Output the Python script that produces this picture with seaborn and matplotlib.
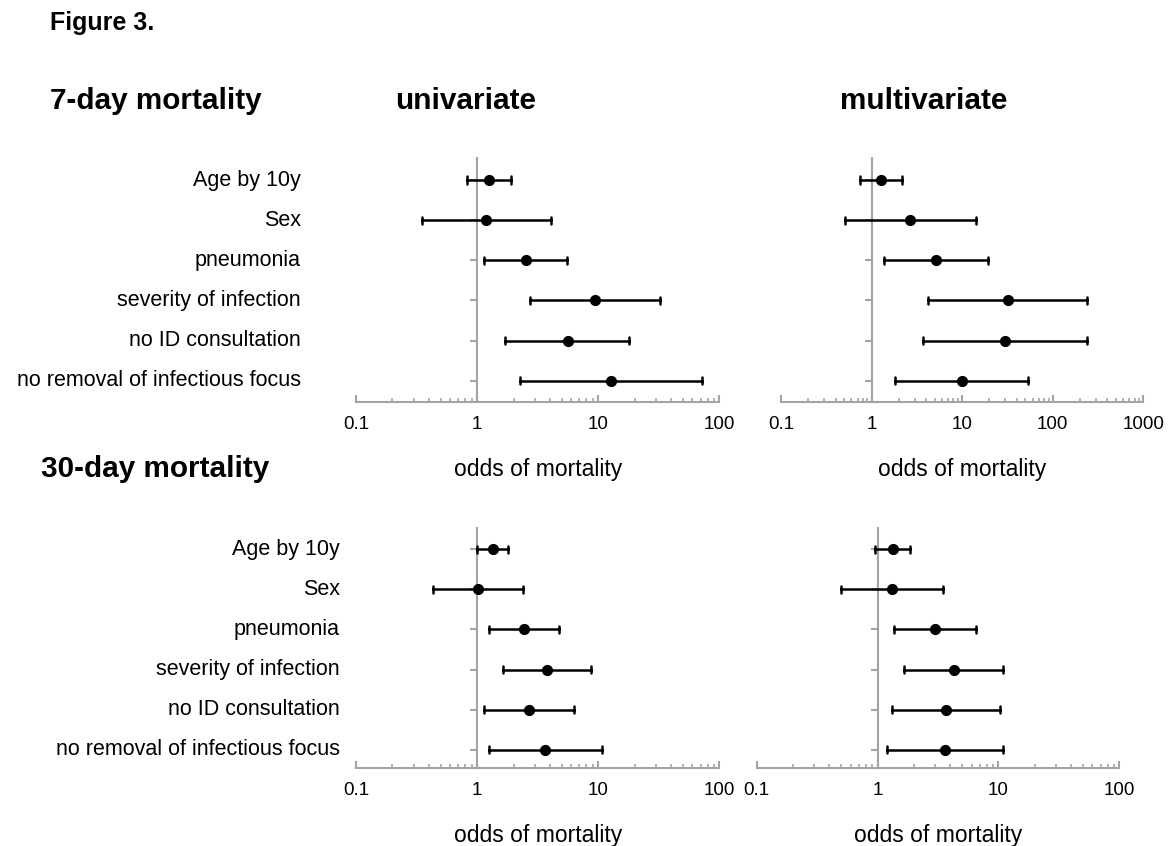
import matplotlib
matplotlib.use('Agg')
import matplotlib.pyplot as plt
import matplotlib.ticker as mticker
from matplotlib.transforms import blended_transform_factory
import numpy as np
import pandas as pd
import seaborn as sns

# row labels, top to bottom
factors = ['Age by 10y', 'Sex', 'pneumonia', 'severity of infection',
           'no ID consultation', 'no removal of infectious focus']

# 7-day mortality, univariate
d7_uni_or = [1.26, 1.19, 2.51, 9.33, 5.58, 12.8]
d7_uni_lo = [0.82, 0.35, 1.14, 2.71, 1.71, 2.27]
d7_uni_hi = [1.92, 4.11, 5.51, 32.5, 18.0, 72.3]

# 7-day mortality, multivariate
d7_multi_or = [1.28, 2.67, 5.13, 31.7, 29.4, 9.85]
d7_multi_lo = [0.74, 0.51, 1.36, 4.22, 3.65, 1.83]
d7_multi_hi = [2.16, 14.2, 19.4, 242, 236, 53.2]

# 30-day mortality, univariate
d30_uni_or = [1.35, 1.01, 2.43, 3.79, 2.66, 3.67]
d30_uni_lo = [1.00, 0.43, 1.25, 1.64, 1.13, 1.26]
d30_uni_hi = [1.80, 2.38, 4.76, 8.64, 6.34, 10.7]

# 30-day mortality, multivariate
d30_multi_or = [1.33, 1.31, 2.98, 4.25, 3.67, 3.63]
d30_multi_lo = [0.96, 0.50, 1.36, 1.65, 1.31, 1.20]
d30_multi_hi = [1.85, 3.49, 6.51, 10.9, 10.3, 10.9]

GRAY = '#a3a3a3'
W, H = 1174, 846

sns.set_theme(style='ticks')
plt.rcParams['font.family'] = ['Liberation Sans', 'DejaVu Sans']
plt.rcParams['text.color'] = 'black'
plt.rcParams['axes.labelcolor'] = 'black'
plt.rcParams['xtick.labelcolor'] = 'black'


def long_table(est, lo, hi):
    # three rows per factor: median of them is the estimate, min/max the CI
    rows = []
    for f, e, l, h in zip(factors, est, lo, hi):
        for v in (l, e, h):
            rows.append({'factor': f, 'odds': v})
    return pd.DataFrame(rows)


def forest(rect, est, lo, hi, xmax, ylim, label_x=None):
    ax = fig.add_axes(rect)
    df = long_table(est, lo, hi)
    sns.pointplot(data=df, x='odds', y='factor', order=factors,
                  estimator='median', errorbar=('pi', 100),
                  color='black', linestyle='none', markers='o',
                  markersize=6, capsize=0.18, log_scale=True,
                  err_kws={'linewidth': 1.8}, ax=ax)
    ax.set_xlim(0.1, xmax)
    ax.set_ylim(*ylim)
    ax.set_ylabel('')
    ax.set_xlabel('odds of mortality', fontsize=16.5, labelpad=18)

    for s in ['top', 'right']:
        ax.spines[s].set_visible(False)
    ax.spines['left'].set_position(('data', 1))
    for s in ['left', 'bottom']:
        ax.spines[s].set_color(GRAY)
        ax.spines[s].set_linewidth(1.5)
        ax.spines[s].set_zorder(0)

    ax.xaxis.set_major_locator(mticker.LogLocator(base=10))
    ax.xaxis.set_minor_locator(mticker.LogLocator(base=10, subs=np.arange(2, 10)))
    ax.xaxis.set_major_formatter(mticker.FuncFormatter(lambda v, p: f'{v:g}'))
    ax.xaxis.set_minor_formatter(mticker.NullFormatter())
    ax.tick_params(axis='x', which='major', direction='in', length=5, width=1.5,
                   color=GRAY, labelsize=13.5, labelcolor='black', pad=10)
    ax.tick_params(axis='x', which='minor', direction='in', length=3, width=1.2,
                   color=GRAY)
    ax.tick_params(axis='y', direction='out', length=5, width=1.5, color=GRAY,
                   labelleft=False)

    if label_x is not None:
        tr = blended_transform_factory(fig.transFigure, ax.transData)
        for i, f in enumerate(factors):
            ax.text(label_x / W, i, f, transform=tr, ha='right', va='center',
                    fontsize=15.5, color='black')
    return ax


fig = plt.figure(figsize=(W / 100, H / 100), dpi=100)

top_ylim = (5.523, -0.556)
bot_ylim = (5.464, -0.531)

forest([356 / W, 0.52518, 363.3 / W, 0.28842], d7_uni_or, d7_uni_lo, d7_uni_hi,
       100, top_ylim, label_x=301)
forest([781 / W, 0.52518, 362.3 / W, 0.28842], d7_multi_or, d7_multi_lo, d7_multi_hi,
       1000, top_ylim)
forest([356 / W, 0.09184, 363.3 / W, 0.28404], d30_uni_or, d30_uni_lo, d30_uni_hi,
       100, bot_ylim, label_x=340)
forest([756.7 / W, 0.09184, 362.6 / W, 0.28404], d30_multi_or, d30_multi_lo, d30_multi_hi,
       100, bot_ylim)

# headings
fig.text(50 / W, 1 - 30 / H, 'Figure 3.', fontsize=18, fontweight='bold',
         ha='left', va='baseline')
fig.text(50 / W, 1 - 109 / H, '7-day mortality', fontsize=21.4, fontweight='bold',
         ha='left', va='baseline')
fig.text(395 / W, 1 - 109 / H, 'univariate', fontsize=21.4, fontweight='bold',
         ha='left', va='baseline')
fig.text(840 / W, 1 - 109 / H, 'multivariate', fontsize=21.4, fontweight='bold',
         ha='left', va='baseline')
fig.text(41 / W, 1 - 477 / H, '30-day mortality', fontsize=21.4, fontweight='bold',
         ha='left', va='baseline')

fig.savefig('out.png', dpi=100, facecolor='white')
